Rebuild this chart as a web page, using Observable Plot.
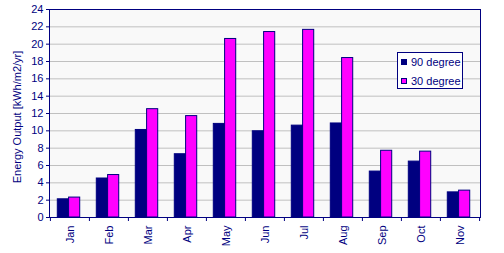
<!DOCTYPE html>
<html>
<head>
<meta charset="utf-8">
<script src="https://cdn.jsdelivr.net/npm/d3@7"></script>
<script src="https://cdn.jsdelivr.net/npm/@observablehq/plot@0.6"></script>
<style>
  html, body { margin: 0; padding: 0; background: white; }
  #wrap { position: relative; width: 504px; height: 253px; }
  #legend { position: absolute; left: 397px; top: 52px; width: 64px; height: 35px;
    border: 1px solid #000080; background: white; font: 11px "Liberation Sans", Arial, sans-serif; color: #000080; }
  .row { position: absolute; left: 3px; height: 12px; line-height: 12px; display: flex; align-items: center; white-space: nowrap; }
  .sw { width: 4px; height: 4px; border: 1px solid #000080; margin-right: 4px; }
</style>
</head>
<body>
<div id="wrap"></div>
<script>
const months = ["Jan","Feb","Mar","Apr","May","Jun","Jul","Aug","Sep","Oct","Nov"];
const deg90 = [2.1, 4.5, 10.1, 7.3, 10.8, 9.95, 10.6, 10.85, 5.3, 6.45, 2.9];
const deg30 = [2.3, 4.9, 12.5, 11.7, 20.6, 21.4, 21.65, 18.4, 7.7, 7.6, 3.1];
const seriesNames = ["90 degree", "30 degree"];
const yTicks = d3.range(0, 25, 2);
const yLabel = "Energy Output [kWh/m2/yr]";

const navy = "#000080", magenta = "#FF00FF";
const W = 504, H = 253, mL = 49, mR = 24, mT = 9, mB = 36;
const bw = (W - mL - mR) / months.length;

const chart = Plot.plot({
  width: W, height: H, marginLeft: mL, marginRight: mR, marginTop: mT, marginBottom: mB,
  style: { fontFamily: "'Liberation Sans', Arial, sans-serif", fontSize: "11px", color: navy, background: "white" },
  x: { domain: months, padding: 0, label: null },
  y: { domain: [0, 24], label: null },
  marks: [
    Plot.frame({ fill: "#f9f9f9" }),
    Plot.gridY(yTicks, { stroke: "#c0c0c0", strokeOpacity: 1 }),
    Plot.barY(months, { x: d => d, y: (d, i) => deg90[i], fill: navy, stroke: navy, strokeWidth: 1,
      insetLeft: 7.3, insetRight: bw - 18.6 }),
    Plot.barY(months, { x: d => d, y: (d, i) => deg30[i], fill: magenta, stroke: navy, strokeWidth: 1,
      insetLeft: 18.6, insetRight: bw - 29.9 }),
    Plot.frame({ stroke: navy }),
    Plot.axisY({ ticks: yTicks, tickSize: 3, tickPadding: 3, stroke: navy, fill: navy, fontSize: 11, label: null }),
    Plot.text([yLabel], { text: d => d, frameAnchor: "left", rotate: -90, dx: -32, dy: 3.5,
      fill: navy, fontSize: 11, textAnchor: "middle" }),
    Plot.axisX({ tickSize: 0, tickRotate: -90, tickPadding: 8, fill: navy, fontSize: 11, label: null }),
    Plot.axisX({ text: null, tickSize: 4, stroke: navy, dx: -bw / 2, label: null }),
    Plot.axisX({ ticks: [months[months.length - 1]], text: null, tickSize: 4, stroke: navy, dx: bw / 2, label: null })
  ]
});

const wrap = document.getElementById("wrap");
wrap.appendChild(chart);
const legend = document.createElement("div");
legend.id = "legend";
const colors = [navy, magenta];
seriesNames.forEach((name, i) => {
  const row = document.createElement("div");
  row.className = "row";
  row.style.top = (3.3 + i * 19) + "px";
  const sw = document.createElement("div");
  sw.className = "sw";
  sw.style.background = colors[i];
  const t = document.createElement("span");
  t.textContent = name;
  row.appendChild(sw); row.appendChild(t);
  legend.appendChild(row);
});
wrap.appendChild(legend);
</script>
</body>
</html>
